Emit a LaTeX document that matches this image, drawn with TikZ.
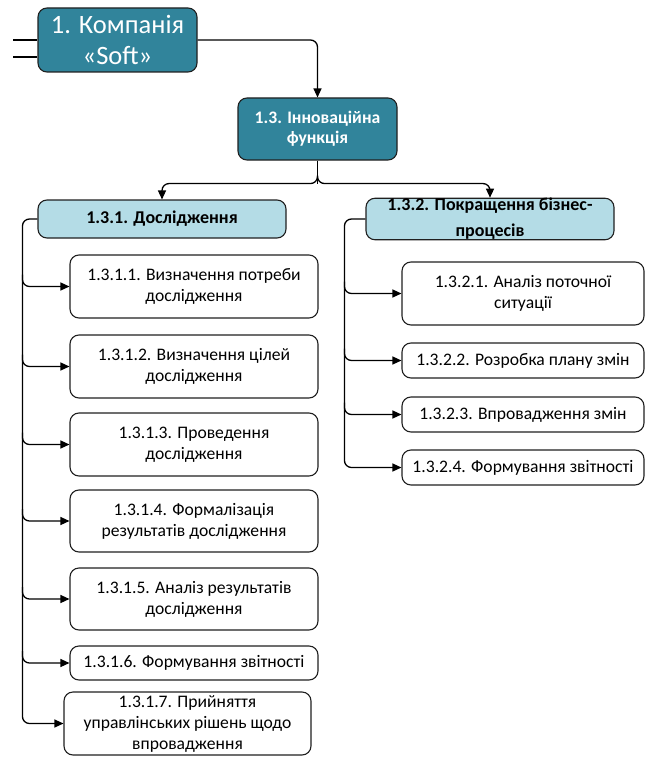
\documentclass[tikz,border=0pt]{standalone}
\usepackage{fontspec}
\setmainfont{Carlito}
\usetikzlibrary{arrows.meta,calc,positioning}
\definecolor{tealbox}{HTML}{31849B}
\definecolor{lightbox}{HTML}{B4DCE6}
\definecolor{edge}{HTML}{202020}
\tikzset{
  base/.style={draw=edge, line width=1.1pt, rounded corners=9pt, align=center, inner sep=0pt},
  topbox/.style={base, fill=tealbox, text=white},
  groupbox/.style={base, fill=lightbox, font=\bfseries\fontsize{18}{21}\selectfont},
  leafbox/.style={base, fill=white, font=\fontsize{17.6}{21}\selectfont},
  wire/.style={draw=black, line width=1.3pt, rounded corners=7pt},
  arr/.style={wire, -{Triangle[length=9pt,width=8pt]}}
}
\begin{document}
\begin{tikzpicture}[x=1pt,y=-1pt]
\useasboundingbox (0,0) rectangle (647,757);

% top level boxes
\node[topbox, minimum width=159, minimum height=64, font=\fontsize{26.5}{31}\selectfont] (comp) at (117.5,40) {1. Компанія\\«Soft»};
\node[topbox, minimum width=159, minimum height=62, font=\bfseries\fontsize{17.6}{20}\selectfont] (inn) at (317.5,129) {1.3. Інноваційна\\функція};

% group boxes
\node[groupbox, minimum width=248, minimum height=38] (g1) at (162,219) {1.3.1. Дослідження};
\node[groupbox, minimum width=248, minimum height=38, font=\bfseries\fontsize{18}{24}\selectfont] (g2) at (490,219) {\raisebox{4pt}{1.3.2. Покращення бізнес-}\\\raisebox{2pt}{процесів}};

% research steps
\node[leafbox, minimum width=248, minimum height=63] (a1) at (194,286.5) {1.3.1.1. Визначення потреби\\дослідження};
\node[leafbox, minimum width=248, minimum height=63] (a2) at (194,366.5) {1.3.1.2. Визначення цілей\\дослідження};
\node[leafbox, minimum width=248, minimum height=63] (a3) at (194,444.5) {1.3.1.3. Проведення\\дослідження};
\node[leafbox, minimum width=248, minimum height=62] (a4) at (194,521) {1.3.1.4. Формалізація\\результатів дослідження};
\node[leafbox, minimum width=248, minimum height=62] (a5) at (194,599) {1.3.1.5. Аналіз результатів\\дослідження};
\node[leafbox, minimum width=248, minimum height=34] (a6) at (194,663) {1.3.1.6. Формування звітності};
\node[leafbox, minimum width=247, minimum height=63] (a7) at (187.5,723.5) {1.3.1.7. Прийняття\\управлінських рішень щодо\\впровадження};

% business process steps
\node[leafbox, minimum width=242, minimum height=63] (b1) at (523,293.5) {1.3.2.1. Аналіз поточної\\ситуації};
\node[leafbox, minimum width=242, minimum height=35] (b2) at (523,360.5) {1.3.2.2. Розробка плану змін};
\node[leafbox, minimum width=242, minimum height=35] (b3) at (523,414.5) {1.3.2.3. Впровадження змін};
\node[leafbox, minimum width=242, minimum height=35] (b4) at (523,467.5) {1.3.2.4. Формування звітності};

% incoming lines on the left of the company box
\coordinate (in1) at (13,40);
\coordinate (in2) at (13,57);
\draw[wire] (in1) -- (in1 -| comp.west);
\draw[wire] (in2) -- (in2 -| comp.west);

% company -> innovation function
\draw[arr] (comp.east) -| (inn.north);

% innovation function -> groups
\coordinate (fork) at ($(inn.south)+(0,23)$);
\draw[wire] (inn.south) -- (fork);
\draw[arr] ($(fork)+(0,-8)$) -- (fork) -| (g1.north);
\draw[arr] ($(fork)+(0,-8)$) -- (fork) -| (g2.north);

% left spine
\coordinate (sL) at ($(g1.west)+(-15,0)$);
\draw[arr] (g1.west) -- (sL) |- (a7.west);
\foreach \n in {a1,a2,a3,a4,a5,a6}
  \draw[arr] ($(sL |- \n.west)+(0,-12)$) -- (sL |- \n.west) -- (\n.west);

% right spine
\coordinate (sR) at ($(g2.west)+(-21,0)$);
\draw[arr] (g2.west) -- (sR) |- (b4.west);
\foreach \n in {b1,b2,b3}
  \draw[arr] ($(sR |- \n.west)+(0,-12)$) -- (sR |- \n.west) -- (\n.west);
\end{tikzpicture}
\end{document}
